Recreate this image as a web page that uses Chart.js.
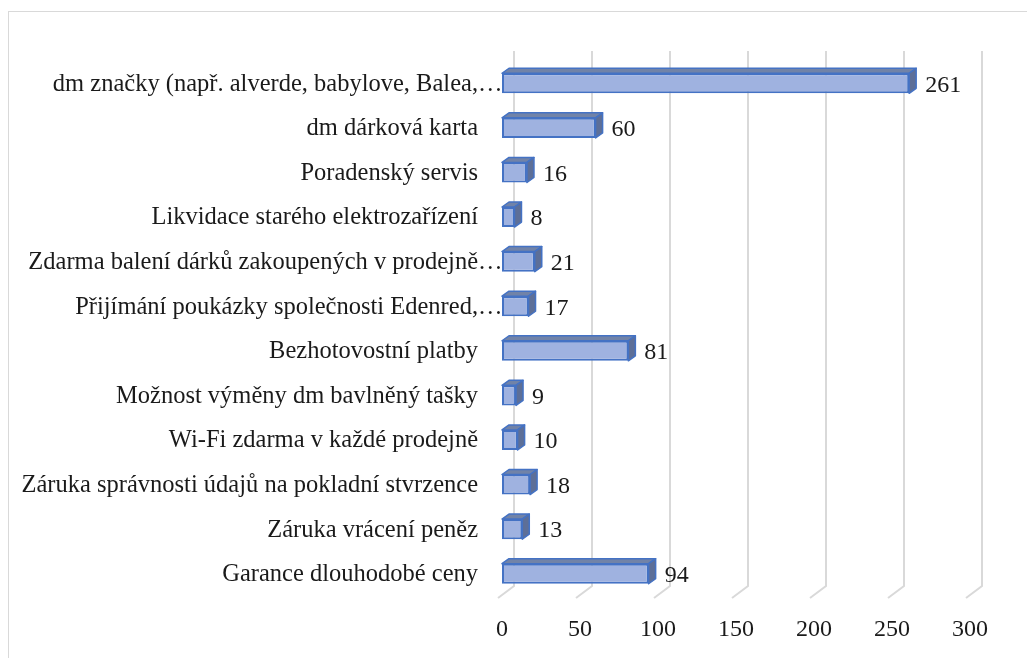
<!DOCTYPE html>
<html>
<head>
<meta charset="utf-8">
<script src="https://cdn.jsdelivr.net/npm/chart.js@4.4.0/dist/chart.umd.min.js"></script>
<style>
  body { margin: 0; background: #fff; }
  #wrap { position: relative; width: 1027px; height: 658px; overflow: hidden; }
  #frame { position: absolute; left: 8px; top: 11px; width: 1100px; height: 700px; border: 1px solid #d9d9d9; }
  canvas { position: absolute; left: 0; top: 0; }
</style>
</head>
<body>
<div id="wrap">
  <div id="frame"></div>
  <canvas id="chart" width="1027" height="658"></canvas>
</div>
<script>
// categories top to bottom, as shown in the picture
const categories = [
    "dm značky (např. alverde, babylove, Balea,…",
    "dm dárková karta",
    "Poradenský servis",
    "Likvidace starého elektrozařízení",
    "Zdarma balení dárků zakoupených v prodejně…",
    "Přijímání poukázky společnosti Edenred,…",
    "Bezhotovostní platby",
    "Možnost výměny dm bavlněný tašky",
    "Wi-Fi zdarma v každé prodejně",
    "Záruka správnosti údajů na pokladní stvrzence",
    "Záruka vrácení peněz",
    "Garance dlouhodobé ceny"
];
const counts = [261, 60, 16, 8, 21, 17, 81, 9, 10, 18, 13, 94];
const xTicks = [0, 50, 100, 150, 200, 250, 300];

const FONT = "'Liberation Serif', 'Times New Roman', serif";
const DX = 7, DY = 5;

// back-wall gridlines with the little slanted foot, like Excel 3D bars
const gridPlugin = {
    id: "grid3d",
    beforeDatasetsDraw(chart) {
        const ctx = chart.ctx;
        const xs = chart.scales.x;
        const area = chart.chartArea;
        ctx.save();
        ctx.strokeStyle = "#d9d9d9";
        ctx.lineWidth = 2;
        xTicks.forEach(v => {
            const x = xs.getPixelForValue(v);
            ctx.beginPath();
            ctx.moveTo(x + 12, area.top - 10);
            ctx.lineTo(x + 12, area.bottom - 10);
            ctx.lineTo(x - 4, area.bottom + 2);
            ctx.stroke();
        });
        ctx.restore();
    }
};

// category labels: right aligned with a gap, the "…" of cut labels hangs into the gap
const labelPlugin = {
    id: "catLabels",
    afterDraw(chart) {
        const ctx = chart.ctx;
        const ys = chart.scales.y;
        const right = chart.chartArea.left - 24;
        ctx.save();
        ctx.fillStyle = "#1a1a1a";
        ctx.font = "24.5px " + FONT;
        ctx.textBaseline = "middle";
        categories.forEach((label, i) => {
            const y = ys.getPixelForValue(i) + 1;
            const cut = label.endsWith("…");
            const text = cut ? label.slice(0, -1) : label;
            ctx.textAlign = "right";
            ctx.fillText(text, right, y);
            if (cut) {
                ctx.textAlign = "left";
                ctx.fillText("…", right, y);
            }
        });
        ctx.restore();
    }
};

// top and side faces of the bars plus value labels
const barPlugin = {
    id: "bars3d",
    afterDatasetsDraw(chart) {
        const ctx = chart.ctx;
        const meta = chart.getDatasetMeta(0);
        ctx.save();
        meta.data.forEach((bar, i) => {
            const x0 = bar.base, x1 = bar.x;
            const top = bar.y - bar.height / 2, bottom = bar.y + bar.height / 2;
            ctx.lineWidth = 1.5;
            ctx.strokeStyle = "#4472c4";
            ctx.lineJoin = "round";

            ctx.beginPath();
            ctx.moveTo(x0, top);
            ctx.lineTo(x0 + DX, top - DY);
            ctx.lineTo(x1 + DX, top - DY);
            ctx.lineTo(x1, top);
            ctx.closePath();
            ctx.fillStyle = "#7183a8";
            ctx.fill();
            ctx.stroke();

            ctx.beginPath();
            ctx.moveTo(x1, top);
            ctx.lineTo(x1 + DX, top - DY);
            ctx.lineTo(x1 + DX, bottom - DY);
            ctx.lineTo(x1, bottom);
            ctx.closePath();
            ctx.fillStyle = "#5d6f98";
            ctx.fill();
            ctx.stroke();

            ctx.fillStyle = "#1a1a1a";
            ctx.font = "24px " + FONT;
            ctx.textAlign = "left";
            ctx.textBaseline = "middle";
            ctx.fillText(String(counts[i]), x1 + DX + 9, bar.y + 2);
        });
        ctx.restore();
    }
};

function frontFill(context) {
    const chart = context.chart;
    const bar = context.element;
    if (!bar || bar.y === undefined) return "#9fb2e0";
    const g = chart.ctx.createLinearGradient(0, bar.y - bar.height / 2, 0, bar.y + bar.height / 2);
    g.addColorStop(0, "#8ea4dc");
    g.addColorStop(0.5, "#a9bae6");
    g.addColorStop(1, "#93a8dd");
    return g;
}

new Chart(document.getElementById("chart"), {
    type: "bar",
    data: {
        labels: categories,
        datasets: [{
            data: counts,
            backgroundColor: frontFill,
            borderColor: "#4472c4",
            borderWidth: 2,
            borderSkipped: false,
            barPercentage: 0.45,
            categoryPercentage: 1
        }]
    },
    options: {
        indexAxis: "y",
        responsive: false,
        animation: false,
        layout: { padding: { top: 61, right: 57, bottom: 10, left: 0 } },
        plugins: { legend: { display: false }, tooltip: { enabled: false } },
        scales: {
            x: {
                min: 0,
                max: 300,
                afterBuildTicks(scale) { scale.ticks = xTicks.map(v => ({ value: v })); },
                grid: { display: false },
                border: { display: false },
                ticks: { color: "#1a1a1a", font: { family: FONT, size: 24 }, padding: 11, maxRotation: 0 },
                afterFit(scale) { scale.height = 52; }
            },
            y: {
                grid: { display: false, drawTicks: false, tickLength: 0 },
                border: { display: false },
                ticks: { display: false },
                afterFit(scale) { scale.width = 502; }
            }
        }
    },
    plugins: [gridPlugin, barPlugin, labelPlugin]
});
</script>
</body>
</html>
